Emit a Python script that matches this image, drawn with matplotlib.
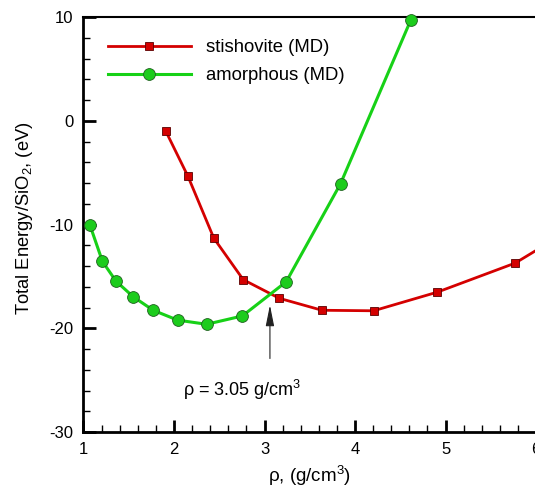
import matplotlib
matplotlib.use("Agg")
import matplotlib.pyplot as plt
from matplotlib.ticker import MultipleLocator

plt.rcParams['font.family'] = ['Liberation Sans', 'DejaVu Sans']
plt.rcParams['mathtext.fontset'] = 'custom'
plt.rcParams['mathtext.rm'] = 'Liberation Sans'
plt.rcParams['mathtext.it'] = 'Liberation Sans:italic'
plt.rcParams['axes.unicode_minus'] = False

# density (g/cm^3) vs total energy per SiO2 (eV)
stish_rho = [1.91, 2.155, 2.44, 2.765, 3.165, 3.635, 4.205, 4.91, 5.77, 6.3]
stish_E = [-1.0, -5.35, -11.3, -15.3, -17.1, -18.25, -18.3, -16.5, -13.7, -10.9]

amor_rho = [1.07, 1.21, 1.36, 1.55, 1.77, 2.04, 2.36, 2.755, 3.24, 3.84, 4.615]
amor_E = [-10.0, -13.55, -15.45, -16.95, -18.25, -19.2, -19.6, -18.8, -15.5, -6.05, 9.7]

cross_rho = 3.05
label_stish = "stishovite (MD)"
label_amor = "amorphous (MD)"

fig = plt.figure(figsize=(5.35, 4.9), dpi=100)
ax = fig.add_axes([0.156, 0.118, 0.846, 0.847])

ax.plot(stish_rho, stish_E, '-s', color='#d40000', lw=2.0, ms=6,
        mfc='#d40000', mec='#5a0000', mew=0.6, label=label_stish)
ax.plot(amor_rho, amor_E, '-o', color='#17d117', lw=2.2, ms=8.5,
        mfc='#1ccc1c', mec='#1f5f1f', mew=0.6, label=label_amor, clip_on=False,
        zorder=3)

# crossing point
ax.annotate("", xy=(cross_rho + 0.01, -17.75), xytext=(cross_rho + 0.01, -22.9),
            arrowprops=dict(arrowstyle='-|>,head_length=0.8,head_width=0.16',
                            color='#222222', lw=0.8,
                            mutation_scale=16, shrinkA=0, shrinkB=0))
ax.text(2.095, -25.95, "ρ = 3.05 g/cm$^3$", fontsize=13, va='center', ha='left')

ax.set_xlim(1, 6)
ax.set_ylim(-30, 10)
ax.xaxis.set_major_locator(MultipleLocator(1))
ax.xaxis.set_minor_locator(MultipleLocator(0.2))
ax.yaxis.set_major_locator(MultipleLocator(10))
ax.yaxis.set_minor_locator(MultipleLocator(2))
ax.tick_params(which='major', direction='in', length=9, width=2, labelsize=12,
               top=False, right=False, pad=7)
ax.tick_params(which='minor', direction='in', length=5, width=1,
               top=False, right=False)
ax.spines['left'].set_linewidth(2)
ax.spines['bottom'].set_linewidth(2)
ax.spines['top'].set_linewidth(1.5)
ax.spines['right'].set_visible(False)

ax.set_xlabel("ρ, (g/cm$^3$)", fontsize=13.5, labelpad=5)
ax.set_ylabel("Total Energy/SiO$_2$, (eV)", fontsize=13.2)
ax.yaxis.set_label_coords(-0.107, 0.516)

ax.legend(loc='upper left', frameon=False, fontsize=13.3, handlelength=4.5,
          handletextpad=0.8, bbox_to_anchor=(0.005, 1.0), borderaxespad=0.8,
          labelspacing=0.6)

fig.savefig("out.png", dpi=100)
